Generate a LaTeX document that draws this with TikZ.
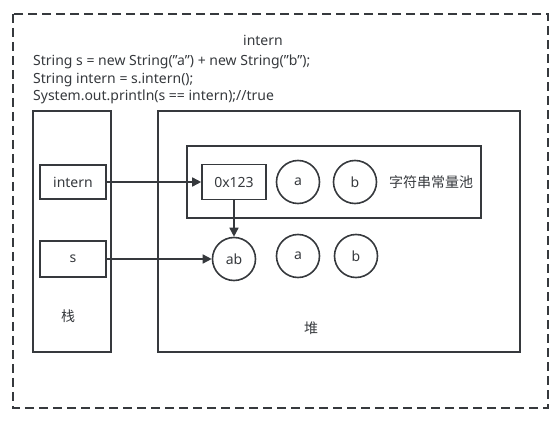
\documentclass[tikz,border=0pt]{standalone}
\usepackage{fontspec}
\setmainfont{Noto Sans}
\newfontfamily\cjk{Noto Sans CJK SC}
\usetikzlibrary{arrows.meta}
\definecolor{linegray}{HTML}{36393D}
\tikzset{
  box/.style={draw=linegray,line width=1.6pt,minimum width=#1},
  box/.default=66pt,
  ball/.style={draw=linegray,line width=1.6pt,circle,minimum size=43pt,inner sep=0pt},
  ref/.style={draw=linegray,line width=1.6pt,-{Triangle[length=9pt,width=9pt]}},
  every node/.style={text=linegray,font=\fontsize{14pt}{17.5pt}\selectfont}
}
\begin{document}
\begin{tikzpicture}[x=1pt,y=-1pt]
  \useasboundingbox (0,0) rectangle (555,422);
  \draw [linegray,line width=1.8pt,dash pattern=on 9pt off 5pt] (13,14) rectangle (548,408);
  \node (title) at (263,40) {intern};
  \node (code) [anchor=north west,align=left,inner sep=0pt] at (33,55)
    {String s = new String(\symbol{34}a\symbol{34}) + new String(\symbol{34}b\symbol{34});\\
     String intern = s.intern();\\
     System.out.println(s == intern);//true};
  % stack and heap
  \draw [linegray,line width=1.6pt] (33,111) rectangle (111,352);
  \draw [linegray,line width=1.6pt] (158,111) rectangle (520,352);
  \draw [linegray,line width=1.6pt] (187,146) rectangle (481,218);
  \node (stack) at (68,316) {\cjk 栈};
  \node (heap) at (311,328) {\cjk 堆};
  \node (pool) at (431,182) {\cjk 字符串常量池};
  % references on the stack
  \node (intern) [box,minimum height=34pt] at (73,182) {intern};
  \node (s) [box,minimum height=36pt] at (73,259) {s};
  % objects
  \node (addr) [box=64pt,minimum height=35pt] at (234,182) {0x123};
  \node (pa) [ball] at (298,182) {a};
  \node (pb) [ball] at (355,182) {b};
  \node (ab) [ball] at (234,259) {ab};
  \node (ha) [ball] at (298,256) {a};
  \node (hb) [ball] at (356,256) {b};
  \draw [ref] (intern) -- (addr);
  \draw [ref] (addr) -- (ab);
  \draw [ref] (s) -- (ab);
\end{tikzpicture}
\end{document}
